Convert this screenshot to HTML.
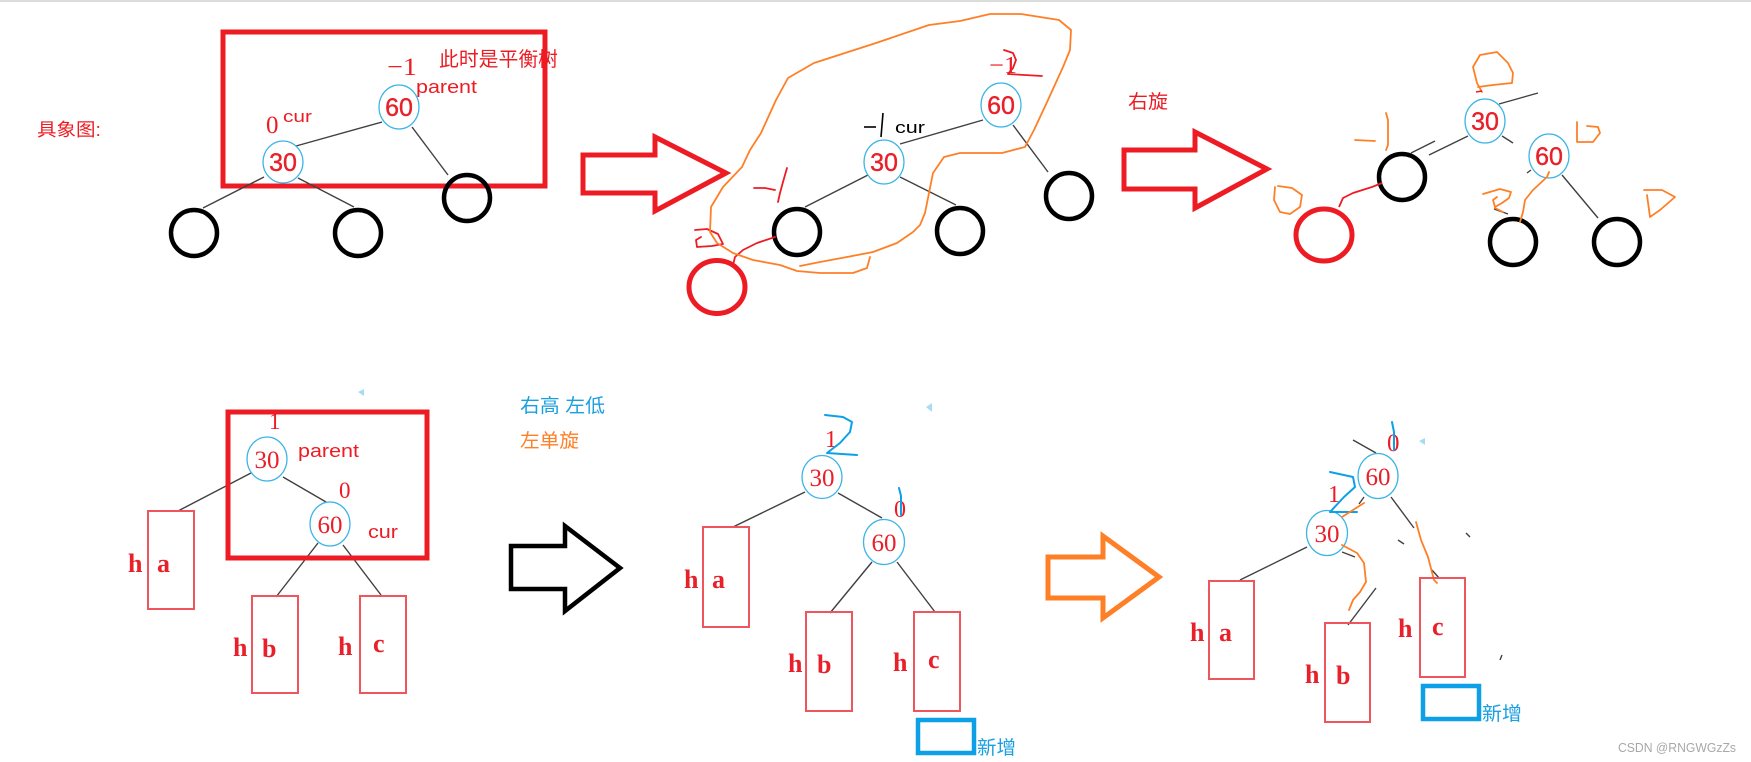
<!DOCTYPE html>
<html><head><meta charset="utf-8"><style>
html,body{margin:0;padding:0;background:#fff;}
svg{display:block;}
</style></head><body>
<svg width="1751" height="762" viewBox="0 0 1751 762" xmlns="http://www.w3.org/2000/svg">
<rect x="0" y="0" width="1751" height="762" fill="#fff"/>
<line x1="0" y1="1" x2="1751" y2="1" stroke="#dcdcdc" stroke-width="2"/>

<g font-family="'Liberation Sans','Noto Sans CJK SC',sans-serif">
<!-- ============ TOP PANEL 1 ============ -->
<text x="37" y="136" font-size="18" fill="#ed1c24" textLength="64" lengthAdjust="spacingAndGlyphs">具象图:</text>
<rect x="223" y="32" width="322" height="154" fill="none" stroke="#ed1c24" stroke-width="5"/>
<g stroke="#404040" stroke-width="1.4" fill="none">
<line x1="296" y1="146" x2="382" y2="122"/>
<line x1="412" y1="127" x2="448" y2="175"/>
<line x1="264" y1="177" x2="203" y2="208"/>
<line x1="298" y1="178" x2="354" y2="207"/>
</g>
<g fill="none" stroke="#000" stroke-width="4.5">
<ellipse cx="194" cy="233" rx="23" ry="23"/>
<ellipse cx="358" cy="233" rx="23" ry="23"/>
<ellipse cx="467" cy="198" rx="23" ry="23"/>
</g>
<g fill="#fff" stroke="#3cb4e6" stroke-width="1.3">
<ellipse cx="399" cy="107" rx="20" ry="22"/>
<ellipse cx="283" cy="162" rx="20" ry="21"/>
</g>
<g fill="#e8202a" font-size="25" text-anchor="middle" stroke="#e8202a" stroke-width="0.4">
<text x="399" y="116">60</text>
<text x="283" y="171">30</text>
</g>
<text x="387" y="75" font-family="'Liberation Serif',serif" font-size="25" fill="#ed1c24" textLength="30" lengthAdjust="spacingAndGlyphs">−1</text>
<text x="416" y="93" font-size="18" fill="#ed1c24" textLength="61" lengthAdjust="spacingAndGlyphs">parent</text>
<text x="439" y="66" font-size="20" fill="#ed1c24" textLength="119" lengthAdjust="spacingAndGlyphs">此时是平衡树</text>
<text x="266" y="133" font-family="'Liberation Serif',serif" font-size="25" fill="#ed1c24">0</text>
<text x="283" y="122" font-size="17" fill="#ed1c24" textLength="29" lengthAdjust="spacingAndGlyphs">cur</text>

<!-- red arrow 1 -->
<polygon points="583,155 655,155 655,137 726,173 655,211 655,193 583,193" fill="none" stroke="#ed1c24" stroke-width="5" stroke-linejoin="miter"/>

<!-- ============ TOP PANEL 2 ============ -->
<g stroke="#404040" stroke-width="1.4" fill="none">
<line x1="900" y1="144" x2="983" y2="120"/>
<line x1="1013" y1="125" x2="1048" y2="172"/>
<line x1="868" y1="175" x2="805" y2="207"/>
<line x1="900" y1="177" x2="956" y2="205"/>
</g>
<g fill="none" stroke="#000" stroke-width="4.5">
<ellipse cx="797" cy="232" rx="23" ry="23"/>
<ellipse cx="960" cy="231" rx="23" ry="23"/>
<ellipse cx="1069" cy="196" rx="23" ry="23"/>
</g>
<ellipse cx="717" cy="287" rx="28" ry="26.5" fill="none" stroke="#ed1c24" stroke-width="5"/>
<g fill="#fff" stroke="#3cb4e6" stroke-width="1.3">
<ellipse cx="1001" cy="105" rx="20" ry="22"/>
<ellipse cx="884" cy="162" rx="20" ry="22"/>
</g>
<g fill="#e8202a" font-size="25" text-anchor="middle" stroke="#e8202a" stroke-width="0.4">
<text x="1001" y="114">60</text>
<text x="884" y="171">30</text>
</g>
<text x="989" y="73" font-family="'Liberation Serif',serif" font-size="24" fill="#ed1c24" textLength="28" lengthAdjust="spacingAndGlyphs">−1</text>
<polyline points="1004,50 1013,53 1016,60 1013,68 1008,74 1042,76" fill="none" stroke="#ed1c24" stroke-width="1.8" stroke-linecap="round" stroke-linejoin="round"/>
<!-- black -1 cur -->
<line x1="864" y1="127" x2="876" y2="127" stroke="#000" stroke-width="1.6"/>
<polyline points="883,113 882,125 881,137" fill="none" stroke="#000" stroke-width="1.6"/>
<text x="895" y="133" font-size="17" fill="#000" textLength="30" lengthAdjust="spacingAndGlyphs">cur</text>
<!-- red handwriting -->
<g fill="none" stroke="#ed1c24" stroke-width="1.8" stroke-linecap="round" stroke-linejoin="round">
<polyline points="754,188 765,188 775,190"/>
<polyline points="787,168 783,182 780,193 778,202"/>
<polyline points="695,230 707,229 718,234 723,244 712,246 697,247 696,240 701,237"/>
<polyline points="775,237 757,243 743,250 735,257 733,265"/>
</g>
<!-- orange loop -->
<g fill="none" stroke="#ff7f27" stroke-width="1.8" stroke-linecap="round" stroke-linejoin="round">
<polyline points="870,257 867,268 853,273 820,273 797,271 780,265 753,260 733,253 717,243 710,232 711,207 723,187 742,167 750,150 761,133 776,100 788,78 814,63 876,43 929,25 960,21 990,14 1021,14 1059,20 1071,30 1070,50 1063,67 1048,100 1034,130 1025,147 1002,153 960,153 944,157 933,173 925,213 920,225 913,232 897,243 873,252 847,257 820,262 800,266"/>
</g>
<text x="1128" y="108" font-size="19" fill="#ed1c24" textLength="40" lengthAdjust="spacingAndGlyphs">右旋</text>

<!-- red arrow 2 -->
<polygon points="1124,150 1195,150 1195,132 1267,169 1195,208 1195,189 1124,189" fill="none" stroke="#ed1c24" stroke-width="5"/>

<!-- ============ TOP PANEL 3 ============ -->
<g stroke="#404040" stroke-width="1.4" fill="none">
<line x1="1499" y1="104" x2="1538" y2="93"/>
<line x1="1429" y1="155" x2="1468" y2="136"/>
<line x1="1411" y1="153" x2="1435" y2="141"/>
<line x1="1502" y1="136" x2="1513" y2="143"/>
<line x1="1527" y1="173" x2="1531" y2="170"/>
<line x1="1562" y1="175" x2="1598" y2="218"/>
<line x1="1494" y1="209" x2="1508" y2="214"/>
</g>
<g fill="none" stroke="#000" stroke-width="4.5">
<ellipse cx="1402" cy="177" rx="23" ry="23"/>
<ellipse cx="1513" cy="242" rx="23" ry="23"/>
<ellipse cx="1617" cy="242" rx="23" ry="23"/>
</g>
<ellipse cx="1324" cy="235" rx="28" ry="26" fill="none" stroke="#ed1c24" stroke-width="5"/>
<polyline points="1382,183 1372,187 1353,193 1343,198 1339,207" fill="none" stroke="#ed1c24" stroke-width="1.8" stroke-linejoin="round"/>
<g fill="#fff" stroke="#3cb4e6" stroke-width="1.3">
<ellipse cx="1485" cy="121" rx="20" ry="22"/>
<ellipse cx="1549" cy="156" rx="20" ry="22"/>
</g>
<g fill="#e8202a" font-size="25" text-anchor="middle" stroke="#e8202a" stroke-width="0.4">
<text x="1485" y="130">30</text>
<text x="1549" y="165">60</text>
</g>
<g fill="none" stroke="#ff7f27" stroke-width="1.8" stroke-linecap="round" stroke-linejoin="round">
<polyline points="1482,92 1477,83 1473,67 1480,55 1497,52 1508,63 1513,73 1512,83 1493,85 1478,87"/>
<polyline points="1355,140 1375,141"/>
<polyline points="1386,113 1388,120 1388,145 1386,150"/>
<polyline points="1275,187 1274,200 1280,212 1290,214 1300,207 1302,195 1292,188 1278,186"/>
<polyline points="1577,122 1577,142 1593,142 1600,133 1598,127 1587,126"/>
<polyline points="1483,194 1500,189 1511,192 1509,198 1502,203 1495,207 1493,200 1497,197"/>
<polyline points="1495,208 1503,212"/>
<polyline points="1549,172 1547,177 1533,190 1525,200 1523,212 1520,222"/>
<polyline points="1644,190 1662,190 1675,197 1660,210 1650,217 1647,195"/>
</g>
<line x1="1476" y1="92" x2="1482" y2="91" stroke="#ed1c24" stroke-width="1.5"/>

<!-- ============ BOTTOM PANEL 1 ============ -->
<polygon points="364,389 358,392 364,396" fill="#a8dcf2"/>
<g stroke="#404040" stroke-width="1.4" fill="none">
<line x1="251" y1="473" x2="178" y2="511"/>
<line x1="283" y1="477" x2="326" y2="502"/>
<line x1="318" y1="543" x2="276" y2="597"/>
<line x1="343" y1="545" x2="381" y2="595"/>
</g>
<text x="269" y="429" font-family="'Liberation Serif',serif" font-size="23" fill="#ed1c24">1</text>
<rect x="228" y="412" width="199" height="146" fill="none" stroke="#ed1c24" stroke-width="5"/>
<g fill="#fff" stroke="#3cb4e6" stroke-width="1.3">
<ellipse cx="267" cy="459" rx="20" ry="22"/>
<ellipse cx="330" cy="524" rx="20" ry="22"/>
</g>
<g fill="#e8202a" font-size="25" text-anchor="middle" font-family="'Liberation Serif',serif">
<text x="267" y="468">30</text>
<text x="330" y="533">60</text>
</g>
<text x="298" y="457" font-size="18" fill="#ed1c24" textLength="61" lengthAdjust="spacingAndGlyphs">parent</text>
<text x="339" y="498" font-family="'Liberation Serif',serif" font-size="23" fill="#ed1c24">0</text>
<text x="368" y="538" font-size="18" fill="#ed1c24" textLength="30" lengthAdjust="spacingAndGlyphs">cur</text>
<g fill="none" stroke="#f0545c" stroke-width="2">
<rect x="148" y="511" width="46" height="98"/>
<rect x="252" y="596" width="46" height="97"/>
<rect x="360" y="596" width="46" height="97"/>
</g>
<g fill="#e8202a" font-family="'Liberation Serif',serif" font-weight="bold" font-size="26">
<text x="128" y="572">h</text><text x="157" y="572">a</text>
<text x="233" y="656">h</text><text x="262" y="657">b</text>
<text x="338" y="655">h</text><text x="373" y="652">c</text>
</g>

<text x="520" y="412" font-size="19" fill="#1a9fe0" textLength="85" lengthAdjust="spacingAndGlyphs">右高 左低</text>
<text x="520" y="447" font-size="19" fill="#ff7f27" textLength="59" lengthAdjust="spacingAndGlyphs">左单旋</text>

<!-- black arrow -->
<polygon points="511,546 565,546 565,526 620,568 565,611 565,589 511,589" fill="none" stroke="#000" stroke-width="4.5"/>

<!-- ============ BOTTOM PANEL 2 ============ -->
<polygon points="932,403 926,407 932,412" fill="#a8dcf2"/>
<g stroke="#404040" stroke-width="1.4" fill="none">
<line x1="805" y1="492" x2="733" y2="527"/>
<line x1="838" y1="493" x2="882" y2="518"/>
<line x1="872" y1="562" x2="830" y2="613"/>
<line x1="897" y1="562" x2="935" y2="612"/>
</g>
<g fill="#fff" stroke="#3cb4e6" stroke-width="1.3">
<ellipse cx="822" cy="477" rx="20" ry="21.5"/>
<ellipse cx="884" cy="542" rx="20.5" ry="22.5"/>
</g>
<g fill="#e8202a" font-size="25" text-anchor="middle" font-family="'Liberation Serif',serif">
<text x="822" y="486">30</text>
<text x="884" y="551">60</text>
</g>
<text x="825" y="447" font-family="'Liberation Serif',serif" font-size="24" fill="#ed1c24">1</text>
<text x="894" y="517" font-family="'Liberation Serif',serif" font-size="24" fill="#ed1c24">0</text>
<g fill="none" stroke="#0ea0e6" stroke-width="2" stroke-linecap="round" stroke-linejoin="round">
<polyline points="825,415 843,417 852,422 850,432 840,443 827,453 857,455"/>
<polyline points="899,488 901,496 901,515"/>
</g>
<g fill="none" stroke="#f0545c" stroke-width="2">
<rect x="703" y="527" width="46" height="100"/>
<rect x="806" y="612" width="46" height="99"/>
<rect x="914" y="612" width="46" height="99"/>
</g>
<g fill="#e8202a" font-family="'Liberation Serif',serif" font-weight="bold" font-size="26">
<text x="684" y="588">h</text><text x="712" y="588">a</text>
<text x="788" y="672">h</text><text x="817" y="673">b</text>
<text x="893" y="671">h</text><text x="928" y="668">c</text>
</g>
<rect x="918" y="720" width="56" height="33" fill="none" stroke="#0ea0e6" stroke-width="4.5"/>
<text x="977" y="754" font-size="19" fill="#1a9fe0" textLength="39" lengthAdjust="spacingAndGlyphs">新增</text>

<!-- orange arrow -->
<polygon points="1048,557 1103,557 1103,536 1159,577 1103,618 1103,598 1048,598" fill="none" stroke="#ff7f27" stroke-width="5"/>

<!-- ============ BOTTOM PANEL 3 ============ -->
<polygon points="1425,438 1419,441 1425,445" fill="#a8dcf2"/>
<g stroke="#404040" stroke-width="1.4" fill="none">
<line x1="1353" y1="440" x2="1376" y2="453"/>
<line x1="1307" y1="547" x2="1240" y2="580"/>
<line x1="1364" y1="497" x2="1359" y2="504"/>
<line x1="1391" y1="497" x2="1414" y2="528"/>
<line x1="1432" y1="570" x2="1439" y2="578"/>
<line x1="1342" y1="552" x2="1355" y2="557"/>
<line x1="1376" y1="588" x2="1348" y2="625"/>
<line x1="1398" y1="540" x2="1404" y2="544"/>
<line x1="1466" y1="533" x2="1470" y2="537"/>
<line x1="1502" y1="655" x2="1500" y2="660"/>
</g>
<g fill="#fff" stroke="#3cb4e6" stroke-width="1.3">
<ellipse cx="1378" cy="476" rx="20" ry="22.5"/>
<ellipse cx="1327" cy="533" rx="20.5" ry="22.5"/>
</g>
<g fill="#e8202a" font-size="25" text-anchor="middle" font-family="'Liberation Serif',serif">
<text x="1378" y="485">60</text>
<text x="1327" y="542">30</text>
</g>
<text x="1387" y="451" font-family="'Liberation Serif',serif" font-size="25" fill="#ed1c24">0</text>
<text x="1328" y="502" font-family="'Liberation Serif',serif" font-size="24" fill="#ed1c24">1</text>
<g fill="none" stroke="#0ea0e6" stroke-width="2" stroke-linecap="round" stroke-linejoin="round">
<polyline points="1392,422 1394,432 1394,450"/>
<polyline points="1330,472 1353,477 1355,487 1344,497 1330,512 1357,512"/>
</g>
<g fill="none" stroke="#ff7f27" stroke-width="1.8" stroke-linecap="round" stroke-linejoin="round">
<polyline points="1364,503 1353,510 1342,517"/>
<polyline points="1342,545 1357,553 1364,563 1366,582 1360,592 1353,600 1349,610"/>
<polyline points="1416,522 1421,540 1428,557 1434,580 1437,583"/>
</g>
<g fill="none" stroke="#f0545c" stroke-width="2">
<rect x="1209" y="581" width="45" height="98"/>
<rect x="1325" y="623" width="45" height="99"/>
<rect x="1420" y="578" width="45" height="99"/>
</g>
<g fill="#e8202a" font-family="'Liberation Serif',serif" font-weight="bold" font-size="26">
<text x="1190" y="641">h</text><text x="1219" y="641">a</text>
<text x="1305" y="683">h</text><text x="1336" y="684">b</text>
<text x="1398" y="637">h</text><text x="1432" y="635">c</text>
</g>
<rect x="1423" y="686" width="56" height="33" fill="none" stroke="#0ea0e6" stroke-width="4.5"/>
<text x="1482" y="720" font-size="19" fill="#1a9fe0" textLength="40" lengthAdjust="spacingAndGlyphs">新增</text>

<text x="1618" y="752" font-size="13" fill="#a8a8a8" textLength="118" lengthAdjust="spacingAndGlyphs">CSDN @RNGWGzZs</text>
</g>
</svg>
</body></html>
